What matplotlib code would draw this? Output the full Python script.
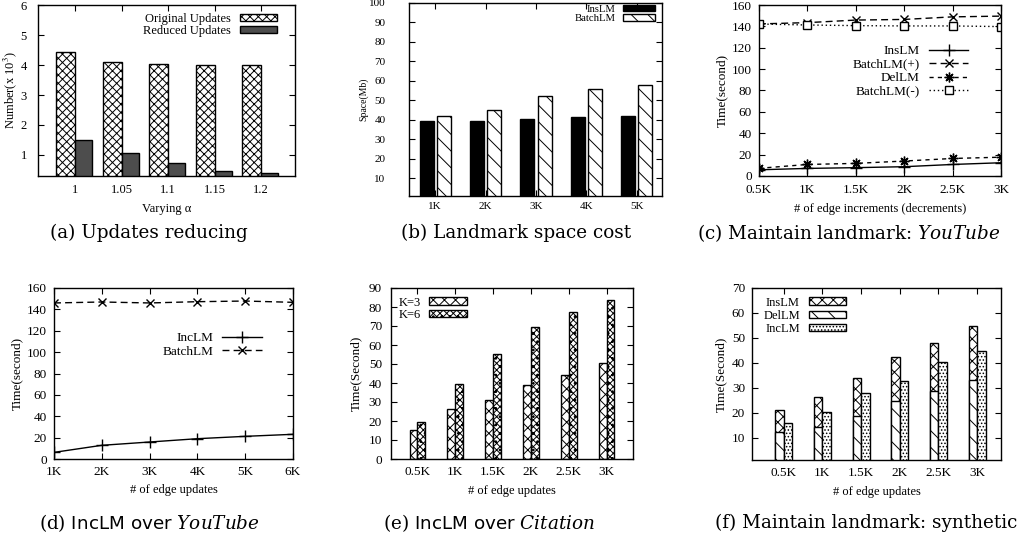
import numpy as np
import matplotlib.pyplot as plt

plt.rcParams['font.family'] = 'Liberation Serif'
plt.rcParams['mathtext.fontset'] = 'stix'
plt.rcParams['hatch.linewidth'] = 0.7
plt.rcParams['axes.linewidth'] = 1.0

# (a) updates reducing
alpha_labels = ['1', '1.05', '1.1', '1.15', '1.2']
original_updates = [4.42, 4.10, 4.02, 4.00, 4.00]
reduced_updates = [1.50, 1.05, 0.74, 0.45, 0.39]

# (b) landmark space cost
space_labels = ['1K', '2K', '3K', '4K', '5K']
space_inslm = [39.3, 39.3, 40.6, 41.6, 41.8]
space_batchlm = [42.2, 45.2, 52.1, 56.1, 58.1]

# (c) maintain landmark: YouTube
inc_labels = ['0.5K', '1K', '1.5K', '2K', '2.5K', '3K']
inc_x = [0.5, 1.0, 1.5, 2.0, 2.5, 3.0]
yt_inslm = [5.8, 7.1, 7.8, 8.7, 10.8, 12.4]
yt_batch_plus = [142.3, 143.5, 145.9, 146.5, 148.9, 149.6]
yt_dellm = [7.2, 10.8, 11.8, 14.0, 16.4, 17.6]
yt_batch_minus = [142.2, 141.3, 140.7, 140.4, 140.4, 139.8]

# (d) IncLM over YouTube
upd_labels = ['1K', '2K', '3K', '4K', '5K', '6K']
upd_x = [1, 2, 3, 4, 5, 6]
yt_inclm = [6.2, 12.8, 15.9, 19.0, 21.2, 23.1]
yt_batchlm = [146.0, 146.9, 146.0, 147.2, 147.8, 146.6]

# (e) IncLM over Citation
cit_labels = ['0.5K', '1K', '1.5K', '2K', '2.5K', '3K']
cit_k3 = [15.4, 26.5, 30.9, 39.1, 44.2, 50.5]
cit_k6 = [19.6, 39.5, 55.3, 69.5, 77.4, 83.9]

# (f) maintain landmark: synthetic
syn_labels = ['0.5K', '1K', '1.5K', '2K', '2.5K', '3K']
syn_inslm = [21.1, 26.2, 33.8, 42.3, 47.9, 54.9]
syn_dellm = [12.4, 14.4, 18.7, 24.5, 28.7, 33.2]
syn_inclm = [15.8, 20.4, 27.8, 32.5, 40.3, 44.8]

W, H = 1023, 539
fig = plt.figure(figsize=(W / 100, H / 100), dpi=100)


def panel(l, r, t, b, xpad, ypad):
    # axes from pixel edges of the reference
    ax = fig.add_axes([l / W, 1 - b / H, (r - l) / W, (b - t) / H])
    ax.tick_params(direction='in', top=True, right=True, length=4, width=0.8)
    ax.tick_params(axis='x', pad=xpad)
    ax.tick_params(axis='y', pad=ypad)
    return ax


def legend(ax, loc, anchor, fs, spacing=0.02):
    return ax.legend(loc=loc, bbox_to_anchor=anchor, frameon=False, fontsize=fs,
                     markerfirst=False, handlelength=3.0, handleheight=0.55,
                     handletextpad=0.7, labelspacing=spacing, borderpad=0,
                     borderaxespad=0)


# ---- (a)
ax = panel(38, 295, 5, 176, 5.5, 8)
xa = np.arange(len(alpha_labels))
ax.bar(xa - 0.205, original_updates, 0.41, facecolor='white', edgecolor='black',
       hatch='xxxx', lw=1, label='Original Updates')
ax.bar(xa + 0.185, reduced_updates, 0.37, facecolor='#4d4d4d', edgecolor='black',
       lw=1, label='Reduced Updates')
ax.set_xlim(-0.8, 4.73)
ax.set_ylim(0.3, 6)
ax.set_xticks(xa)
ax.set_xticklabels(alpha_labels)
ax.set_yticks([1, 2, 3, 4, 5, 6])
ax.tick_params(labelsize=9)
ax.set_xlabel('Varying α', fontsize=9, labelpad=5)
ax.set_ylabel('Number(x 10$^3$)', fontsize=9, labelpad=1)
legend(ax, 'upper right', (0.93, 0.955), 9)

# ---- (b)
ax = panel(409, 662, 3, 196, 4.3, 17)
xb = np.arange(len(space_labels))
ax.bar(xb - 0.17, space_inslm, 0.28, facecolor='black', edgecolor='black',
       lw=1, label='InsLM')
ax.bar(xb + 0.17, space_batchlm, 0.28, facecolor='white', edgecolor='black',
       hatch='\\\\', lw=1, label='BatchLM')
ax.set_xlim(-0.52, 4.5)
ax.set_ylim(1, 100)
ax.set_xticks(xb)
ax.set_xticklabels(space_labels)
ax.set_yticks(range(10, 101, 10))
ax.tick_params(labelsize=8)
ax.set_ylabel('Space(Mb)', fontsize=7, labelpad=0.5)
legend(ax, 'upper right', (0.973, 0.99), 7.7)

# ---- (c)
ax = panel(759, 1001, 5, 176, 5.5, 5)
ax.plot(inc_x, yt_inslm, color='black', lw=1, marker='+', ms=8, label='InsLM')
ax.plot(inc_x, yt_batch_plus, color='black', lw=1, ls=(0, (5, 3)), marker='x',
        ms=6, label='BatchLM(+)')
ax.plot(inc_x, yt_dellm, color='black', lw=1, ls=(0, (3, 3)), marker=(8, 2, 0),
        ms=7, label='DelLM')
ax.plot(inc_x, yt_batch_minus, color='black', lw=1, ls=(0, (1, 2)), marker='s',
        ms=6, mfc='white', label='BatchLM(-)')
ax.set_xlim(0.5, 3)
ax.set_ylim(0, 160)
ax.set_xticks(inc_x)
ax.set_xticklabels(inc_labels)
ax.set_yticks(range(0, 161, 20))
ax.tick_params(labelsize=9.5)
ax.set_xlabel('# of edge increments (decrements)', fontsize=9, labelpad=5)
ax.set_ylabel('Time(second)', fontsize=9.5, labelpad=3)
legend(ax, 'upper right', (0.865, 0.765), 9.5, spacing=0.1)

# ---- (d)
ax = panel(54, 293, 288, 459, 4.7, 5)
ax.plot(upd_x, yt_inclm, color='black', lw=1, marker='+', ms=8, label='IncLM')
ax.plot(upd_x, yt_batchlm, color='black', lw=1, ls=(0, (5, 3)), marker='x',
        ms=6, label='BatchLM')
ax.set_xlim(1, 6)
ax.set_ylim(0, 160)
ax.set_xticks(upd_x)
ax.set_xticklabels(upd_labels)
ax.set_yticks(range(0, 161, 20))
ax.tick_params(labelsize=9.5)
ax.set_xlabel('# of edge updates', fontsize=9, labelpad=5)
ax.set_ylabel('Time(second)', fontsize=9.5, labelpad=3)
legend(ax, 'upper right', (0.87, 0.74), 9.5, spacing=0.1)

# ---- (e)
ax = panel(391, 633, 288, 459, 5.2, 6.5)
xe = np.arange(len(cit_labels))
ax.bar(xe - 0.105, cit_k3, 0.21, facecolor='white', edgecolor='black',
       hatch='xxx', lw=1, label='K=3')
ax.bar(xe + 0.105, cit_k6, 0.21, facecolor='white', edgecolor='black',
       hatch='xxxxx..', lw=1, label='K=6')
ax.set_xlim(-0.7, 5.7)
ax.set_ylim(0, 90)
ax.set_xticks(xe)
ax.set_xticklabels(cit_labels)
ax.set_yticks(range(0, 91, 10))
ax.tick_params(labelsize=9.5)
ax.set_xlabel('# of edge updates', fontsize=9, labelpad=5)
ax.set_ylabel('Time(Second)', fontsize=9.5, labelpad=5)
legend(ax, 'upper left', (0.03, 0.95), 9)

# ---- (f)
ax = panel(752, 1001, 288, 460, 4.8, 5)
xf = np.arange(len(syn_labels))
ax.bar(xf - 0.11, syn_inslm, 0.22, facecolor='white', edgecolor='black',
       hatch='xxx', lw=1, label='InsLM')
ax.bar(xf - 0.11, syn_dellm, 0.22, facecolor='white', edgecolor='black',
       hatch='\\\\', lw=1, label='DelLM')
ax.bar(xf + 0.11, syn_inclm, 0.22, facecolor='white', edgecolor='black',
       hatch='.....', lw=1, label='IncLM')
ax.set_xlim(-0.82, 5.62)
ax.set_ylim(1, 70)
ax.set_xticks(xf)
ax.set_xticklabels(syn_labels)
ax.set_yticks(range(10, 71, 10))
ax.tick_params(labelsize=9.5)
ax.set_xlabel('# of edge updates', fontsize=9, labelpad=5)
ax.set_ylabel('Time(Second)', fontsize=9.5, labelpad=3)
legend(ax, 'upper left', (0.045, 0.95), 9, spacing=0.1)

# sub-captions
caps = [
    (149, 233, '(a) Updates reducing'),
    (516, 233, '(b) Landmark space cost'),
    (849, 233, '(c) Maintain landmark: $YouTube$'),
    (149, 523, r'(d) $\mathsf{IncLM\ over}$ $YouTube$'),
    (489, 523, r'(e) $\mathsf{IncLM\ over}$ $Citation$'),
    (866, 523, '(f) Maintain landmark: synthetic'),
]
for cx, cy, txt in caps:
    fig.text(cx / W, 1 - cy / H, txt, ha='center', va='center', fontsize=13.2,
             family='DejaVu Serif', math_fontfamily='dejavuserif')

fig.savefig('out.png', dpi=100)
